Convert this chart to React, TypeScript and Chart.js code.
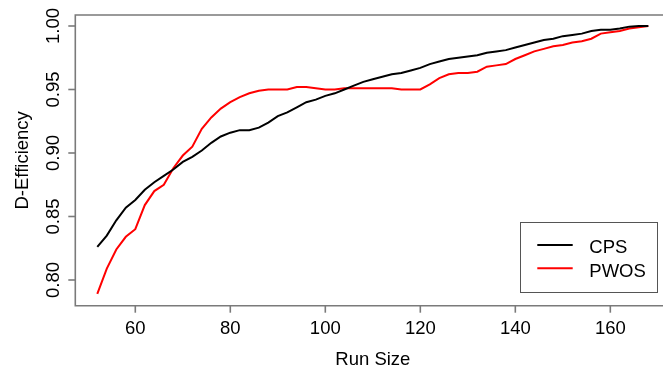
import React, { useEffect, useRef } from "react";
import { Chart, registerables } from "chart.js";

Chart.register(...registerables);

const runSizes = [
  52, 54, 56, 58, 60, 62, 64, 66, 68, 70, 72, 74, 76, 78, 80, 82, 84, 86, 88, 90,
  92, 94, 96, 98, 100, 102, 104, 106, 108, 110, 112, 114, 116, 118, 120, 122, 124,
  126, 128, 130, 132, 134, 136, 138, 140, 142, 144, 146, 148, 150, 152, 154, 156,
  158, 160, 162, 164, 166, 168,
];

const cpsValues = [
  0.826, 0.835, 0.847, 0.857, 0.863, 0.871, 0.877, 0.882, 0.887, 0.893, 0.897,
  0.902, 0.908, 0.913, 0.916, 0.918, 0.918, 0.92, 0.924, 0.929, 0.932, 0.936,
  0.94, 0.942, 0.945, 0.947, 0.95, 0.953, 0.956, 0.958, 0.96, 0.962, 0.963,
  0.965, 0.967, 0.97, 0.972, 0.974, 0.975, 0.976, 0.977, 0.979, 0.98, 0.981,
  0.983, 0.985, 0.987, 0.989, 0.99, 0.992, 0.993, 0.994, 0.996, 0.997, 0.997,
  0.998, 0.9995, 1.0, 1.0,
];

const pwosValues = [
  0.789, 0.809, 0.824, 0.834, 0.84, 0.859, 0.87, 0.875, 0.888, 0.898, 0.905,
  0.919, 0.928, 0.935, 0.94, 0.944, 0.947, 0.949, 0.95, 0.95, 0.95, 0.952,
  0.952, 0.951, 0.95, 0.95, 0.951, 0.951, 0.951, 0.951, 0.951, 0.951, 0.95,
  0.95, 0.95, 0.954, 0.959, 0.962, 0.963, 0.963, 0.964, 0.968, 0.969, 0.97,
  0.974, 0.977, 0.98, 0.982, 0.984, 0.985, 0.987, 0.988, 0.99, 0.994, 0.995,
  0.996, 0.998, 0.999, 1.0,
];

const xTicks = [60, 80, 100, 120, 140, 160];
const yTicks = [0.8, 0.85, 0.9, 0.95, 1.0];
const yTickLabels = ["0.80", "0.85", "0.90", "0.95", "1.00"];
const seriesNames = ["CPS", "PWOS"];
const seriesColors = ["#000000", "#ff0000"];
const xTitle = "Run Size";
const yTitle = "D-Efficiency";

const FONT = '18.5px "Liberation Sans", Arial, sans-serif';

const rAxesPlugin = {
  id: "rAxes",
  afterDraw(chart: any) {
    const ctx = chart.ctx;
    const area = chart.chartArea;
    const xs = chart.scales.x;
    const ys = chart.scales.y;
    ctx.save();
    // box (top, left, bottom)
    ctx.strokeStyle = "#7a7a7a";
    ctx.lineWidth = 1.6;
    ctx.beginPath();
    ctx.moveTo(chart.width + 5, area.top);
    ctx.lineTo(area.left, area.top);
    ctx.lineTo(area.left, area.bottom);
    ctx.lineTo(chart.width + 5, area.bottom);
    ctx.stroke();
    // x ticks
    ctx.fillStyle = "#000";
    ctx.font = FONT;
    ctx.textAlign = "center";
    ctx.textBaseline = "alphabetic";
    xTicks.forEach((t) => {
      const px = xs.getPixelForValue(t);
      ctx.beginPath();
      ctx.moveTo(px, area.bottom);
      ctx.lineTo(px, area.bottom + 7);
      ctx.stroke();
      ctx.fillText(String(t), px, 333.5);
    });
    // y ticks
    yTicks.forEach((t, i) => {
      const py = ys.getPixelForValue(t);
      ctx.beginPath();
      ctx.moveTo(area.left, py);
      ctx.lineTo(area.left - 7, py);
      ctx.stroke();
      ctx.save();
      ctx.translate(58.5, py);
      ctx.rotate(-Math.PI / 2);
      ctx.fillText(yTickLabels[i], 0, 0);
      ctx.restore();
    });
    // titles
    ctx.fillText(xTitle, (area.left + xs.getPixelForValue(172.64)) / 2, 365);
    ctx.save();
    ctx.translate(27.5, (area.top + area.bottom) / 2);
    ctx.rotate(-Math.PI / 2);
    ctx.fillText(yTitle, 0, 0);
    ctx.restore();
    // legend
    ctx.strokeStyle = "#555";
    ctx.lineWidth = 1;
    ctx.strokeRect(520.5, 222.5, 137, 70);
    const rows = [245, 268.3];
    const bases = [253.3, 276.7];
    seriesNames.forEach((name, i) => {
      ctx.strokeStyle = seriesColors[i];
      ctx.lineWidth = 2;
      ctx.beginPath();
      ctx.moveTo(537.3, rows[i]);
      ctx.lineTo(572.7, rows[i]);
      ctx.stroke();
      ctx.fillStyle = "#000";
      ctx.textAlign = "left";
      ctx.fillText(name, 589.3, bases[i]);
    });
    ctx.restore();
  },
};

export default function App() {
  const ref = useRef<HTMLCanvasElement>(null);
  useEffect(() => {
    if (!ref.current) return;
    const chart = new Chart(ref.current, {
      type: "line",
      data: {
        datasets: [
          {
            label: seriesNames[0],
            data: runSizes.map((x, i) => ({ x, y: cpsValues[i] })),
            borderColor: seriesColors[0],
            borderWidth: 2,
            pointRadius: 0,
            tension: 0,
          },
          {
            label: seriesNames[1],
            data: runSizes.map((x, i) => ({ x, y: pwosValues[i] })),
            borderColor: seriesColors[1],
            borderWidth: 2,
            pointRadius: 0,
            tension: 0,
          },
        ],
      },
      options: {
        animation: false,
        responsive: false,
        devicePixelRatio: 1,
        layout: { padding: { left: 75.3, top: 15, right: 0, bottom: 67.3 } },
        plugins: { legend: { display: false }, tooltip: { enabled: false } },
        scales: {
          x: { type: "linear", display: false, min: 47.37, max: 171.09 },
          y: { type: "linear", display: false, min: 0.77976, max: 1.00866 },
        },
      },
      plugins: [rAxesPlugin],
    });
    return () => chart.destroy();
  }, []);
  return (
    <div style={{ position: "fixed", left: 0, top: 0, width: 663, height: 373, background: "#fff" }}>
      <canvas ref={ref} width={663} height={373} style={{ width: 663, height: 373, display: "block" }} />
    </div>
  );
}
